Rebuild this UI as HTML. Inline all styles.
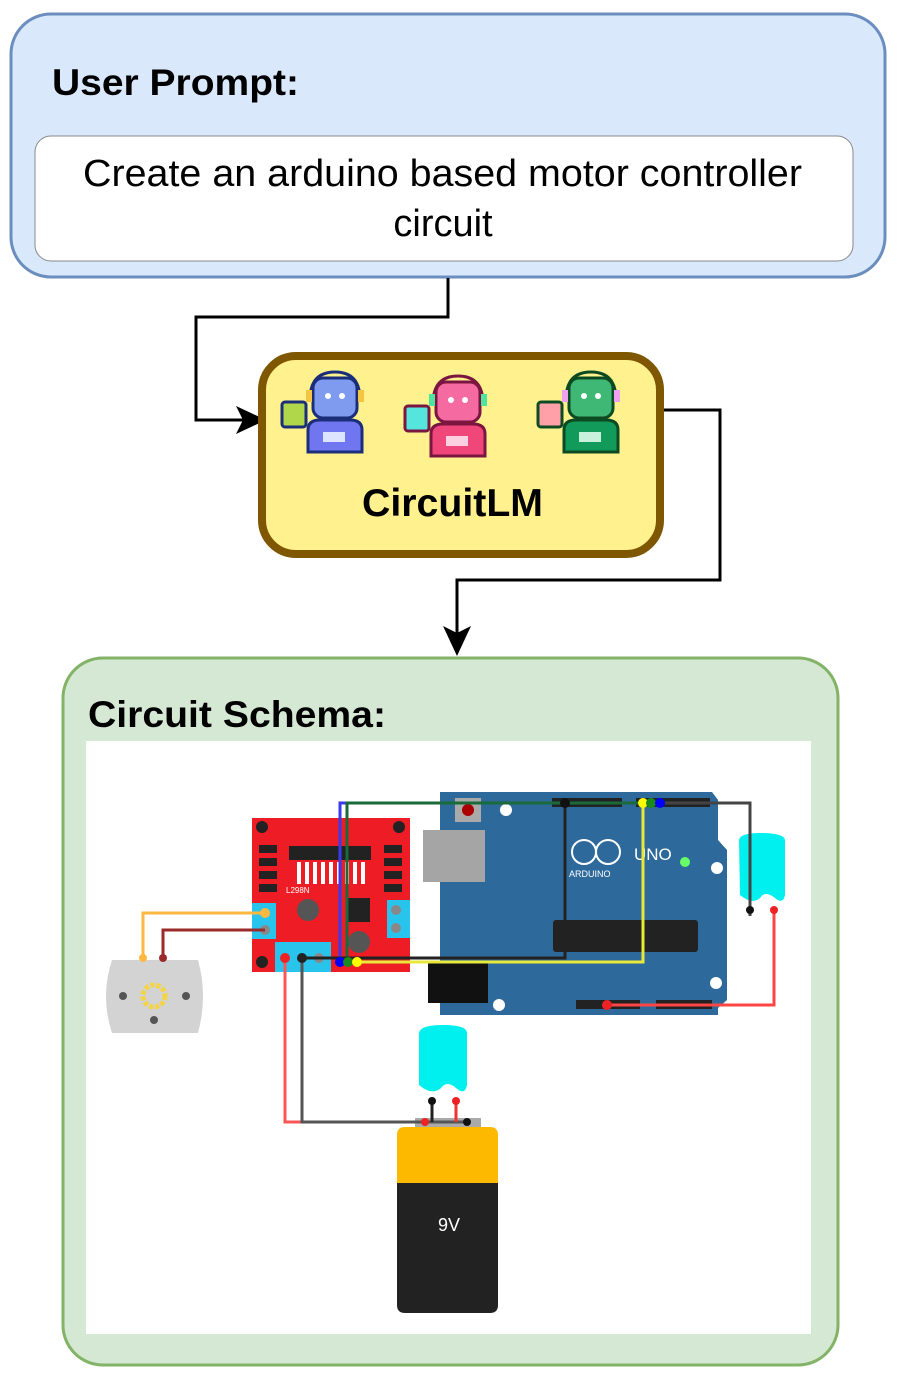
<!DOCTYPE html>
<html><head><meta charset="utf-8"><style>
html,body{margin:0;padding:0;background:#fff;}
svg{display:block;font-family:"Liberation Sans",Arial,sans-serif;}
</style></head><body>
<svg width="897" height="1381" viewBox="0 0 897 1381" xmlns="http://www.w3.org/2000/svg">
<!-- User prompt box -->
<rect x="11" y="14" width="874" height="263" rx="40" fill="#dae8fc" stroke="#6c8ebf" stroke-width="3"/>
<text x="52" y="95" font-size="37" font-weight="bold" fill="#000" textLength="247" lengthAdjust="spacingAndGlyphs">User Prompt:</text>
<rect x="35" y="136" width="818" height="125" rx="16" fill="#fff" stroke="#888" stroke-width="1"/>
<text x="83" y="186" font-size="38" fill="#000" textLength="719" lengthAdjust="spacingAndGlyphs">Create an arduino based motor controller</text>
<text x="443" y="236" font-size="38" text-anchor="middle" fill="#000">circuit</text>
<!-- arrow 1 -->
<path d="M448,278 V317 H196 V420 H258" fill="none" stroke="#000" stroke-width="3"/>
<path d="M236,406 L266,420 L236,434 L243,420 Z" fill="#000"/>
<!-- CircuitLM -->
<rect x="262" y="356" width="398" height="198" rx="34" fill="#fff28e" stroke="#7f5700" stroke-width="8"/>
<text x="362" y="516" font-size="39" font-weight="bold" fill="#000" textLength="181" lengthAdjust="spacingAndGlyphs">CircuitLM</text>
<!-- robots -->
<g stroke-width="3">
 <g transform="translate(280,370)">
  <rect x="2" y="32" width="24" height="25" rx="3" fill="#b0d64a" stroke="#1b2e7a"/>
  <path d="M30,30 Q30,2 55,2 Q80,2 80,30" fill="none" stroke="#1b2e7a"/>
  <rect x="33" y="8" width="44" height="40" rx="10" fill="#7f9bf0" stroke="#1b2e7a"/>
  <circle cx="48" cy="26" r="3" fill="#fff" stroke="none"/><circle cx="62" cy="26" r="3" fill="#fff" stroke="none"/>
  <rect x="26" y="20" width="6" height="12" fill="#f5c542" stroke="none"/><rect x="78" y="20" width="6" height="12" fill="#f5c542" stroke="none"/>
  <path d="M28,82 V60 Q28,50 40,50 H70 Q82,50 82,60 V82 Z" fill="#7076f0" stroke="#1b2e7a"/>
  <rect x="43" y="62" width="22" height="10" fill="#dde4ff" stroke="none"/>
 </g>
 <g transform="translate(403,374)">
  <rect x="2" y="32" width="24" height="25" rx="3" fill="#55e5dc" stroke="#7a1640"/>
  <path d="M30,30 Q30,2 55,2 Q80,2 80,30" fill="none" stroke="#7a1640"/>
  <rect x="33" y="8" width="44" height="40" rx="10" fill="#f56aa0" stroke="#7a1640"/>
  <circle cx="48" cy="26" r="3" fill="#fff" stroke="none"/><circle cx="62" cy="26" r="3" fill="#fff" stroke="none"/>
  <rect x="26" y="20" width="6" height="12" fill="#4fe3a0" stroke="none"/><rect x="78" y="20" width="6" height="12" fill="#4fe3a0" stroke="none"/>
  <path d="M28,82 V60 Q28,50 40,50 H70 Q82,50 82,60 V82 Z" fill="#f0477a" stroke="#7a1640"/>
  <rect x="43" y="62" width="22" height="10" fill="#fbd0e0" stroke="none"/>
 </g>
 <g transform="translate(536,370)">
  <rect x="2" y="32" width="24" height="25" rx="3" fill="#ffa0a8" stroke="#0c4a22"/>
  <path d="M30,30 Q30,2 55,2 Q80,2 80,30" fill="none" stroke="#0c4a22"/>
  <rect x="33" y="8" width="44" height="40" rx="10" fill="#3fb876" stroke="#0c4a22"/>
  <circle cx="48" cy="26" r="3" fill="#fff" stroke="none"/><circle cx="62" cy="26" r="3" fill="#fff" stroke="none"/>
  <rect x="26" y="20" width="6" height="12" fill="#f0a0f0" stroke="none"/><rect x="78" y="20" width="6" height="12" fill="#f0a0f0" stroke="none"/>
  <path d="M28,82 V60 Q28,50 40,50 H70 Q82,50 82,60 V82 Z" fill="#119a5a" stroke="#0c4a22"/>
  <rect x="43" y="62" width="22" height="10" fill="#c8f0da" stroke="none"/>
 </g>
</g>
<!-- arrow 2 -->
<path d="M664,410 H720 V580 H457 V640" fill="none" stroke="#000" stroke-width="3"/>
<path d="M443,626 L457,656 L471,626 L457,633 Z" fill="#000"/>
<!-- Circuit Schema box -->
<rect x="63" y="658" width="775" height="707" rx="40" fill="#d5e8d4" stroke="#82b366" stroke-width="3"/>
<text x="88" y="727" font-size="37" font-weight="bold" fill="#000" textLength="298" lengthAdjust="spacingAndGlyphs">Circuit Schema:</text>
<rect x="86" y="741" width="725" height="593" fill="#fff"/>
<!-- Arduino -->
<path d="M440,792 H712 L718,800 V840 L727,850 V1000 L718,1008 V1015 H440 Z" fill="#2d6a9b"/>
<rect x="423" y="830" width="62" height="52" fill="#a5a5a5"/>
<rect x="428" y="963" width="60" height="40" fill="#111"/>
<rect x="553" y="920" width="145" height="32" rx="3" fill="#222"/>
<rect x="455" y="798" width="26" height="24" fill="#aaa"/><circle cx="468" cy="810" r="6" fill="#a00"/>
<rect x="552" y="798" width="70" height="9" fill="#222"/>
<rect x="636" y="798" width="74" height="9" fill="#222"/>
<rect x="576" y="1000" width="64" height="9" fill="#222"/>
<rect x="656" y="1000" width="56" height="9" fill="#222"/>
<circle cx="584" cy="852" r="12" fill="none" stroke="#fff" stroke-width="2"/><circle cx="608" cy="852" r="12" fill="none" stroke="#fff" stroke-width="2"/>
<text x="634" y="860" font-size="17" fill="#fff">UNO</text>
<text x="569" y="877" font-size="9" fill="#fff">ARDUINO</text>
<circle cx="685" cy="862" r="5" fill="#6f6"/>
<circle cx="717" cy="868" r="6" fill="#fff"/><circle cx="716" cy="983" r="6" fill="#fff"/><circle cx="499" cy="1005" r="6" fill="#fff"/><circle cx="506" cy="810" r="6" fill="#fff"/>
<!-- L298N -->
<rect x="252" y="818" width="158" height="154" fill="#ee1c24"/>
<rect x="289" y="846" width="82" height="14" fill="#222"/>
<g fill="#fff"><rect x="297" y="862" width="4" height="22"/><rect x="305" y="862" width="4" height="22"/><rect x="313" y="862" width="4" height="22"/><rect x="321" y="862" width="4" height="22"/><rect x="329" y="862" width="4" height="22"/><rect x="337" y="862" width="4" height="22"/><rect x="345" y="862" width="4" height="22"/><rect x="353" y="862" width="4" height="22"/><rect x="361" y="862" width="4" height="22"/></g>
<g fill="#222"><rect x="259" y="845" width="18" height="8"/><rect x="259" y="858" width="18" height="8"/><rect x="259" y="871" width="18" height="8"/><rect x="259" y="884" width="18" height="8"/><rect x="384" y="845" width="18" height="8"/><rect x="384" y="858" width="18" height="8"/><rect x="384" y="871" width="18" height="8"/><rect x="384" y="884" width="18" height="8"/></g>
<circle cx="262" cy="827" r="6" fill="#222"/><circle cx="399" cy="827" r="6" fill="#222"/><circle cx="262" cy="962" r="6" fill="#222"/>
<text x="286" y="893" font-size="8" fill="#fff">L298N</text>
<circle cx="308" cy="910" r="11" fill="#555"/><circle cx="359" cy="942" r="11" fill="#555"/>
<rect x="346" y="898" width="24" height="24" fill="#222"/>
<rect x="252" y="903" width="24" height="36" fill="#29c4ec"/>
<rect x="387" y="900" width="23" height="38" fill="#29c4ec"/>
<rect x="275" y="942" width="56" height="30" fill="#29c4ec"/>
<circle cx="396" cy="910" r="5" fill="#888"/><circle cx="396" cy="928" r="5" fill="#888"/>
<circle cx="265" cy="930" r="5" fill="#888"/><circle cx="319" cy="958" r="5" fill="#888"/>
<!-- Motor -->
<path d="M112,960 H198 Q208,996 198,1033 H112 Q100,996 112,960 Z" fill="#d3d3d3"/>
<circle cx="154" cy="996" r="11" fill="none" stroke="#f4d442" stroke-width="5" stroke-dasharray="4 2"/>
<circle cx="123" cy="996" r="4" fill="#555"/><circle cx="186" cy="996" r="4" fill="#555"/><circle cx="154" cy="1020" r="4" fill="#555"/>
<!-- LEDs -->
<path d="M739,840 Q740,833 760,833 Q784,833 785,840 V895 Q783,905 775,898 Q765,890 760,898 Q752,905 740,895 Z" fill="#00f0f0"/>
<path d="M419,1033 Q420,1025 443,1025 Q467,1025 467,1033 V1085 Q465,1096 456,1088 Q447,1080 441,1088 Q432,1096 419,1085 Z" fill="#00f0f0"/>
<!-- Battery -->
<rect x="415" y="1118" width="66" height="10" fill="#aaa"/>
<path d="M397,1135 Q397,1127 405,1127 H490 Q498,1127 498,1135 V1183 H397 Z" fill="#fdb900"/>
<path d="M397,1183 H498 V1305 Q498,1313 490,1313 H405 Q397,1313 397,1305 Z" fill="#222"/>
<text x="449" y="1231" font-size="18" fill="#fff" text-anchor="middle">9V</text>
<!-- wires -->
<g fill="none" stroke-width="3">
<path d="M143,958 V913 H265" stroke="#fdb840"/>
<path d="M163,958 V930 H265" stroke="#9b2a2a"/>
<path d="M340,960 V803 H565" stroke="#3a3af0"/>
<path d="M347,960 V803 H650" stroke="#1a6a3a"/>
<path d="M565,803 V958 H300" stroke="#222"/>
<path d="M643,803 V962 H357" stroke="#e8e83a"/>
<path d="M660,803 H750 V916" stroke="#444"/>
<path d="M774,910 V1005 H607" stroke="#f44"/>
<path d="M285,958 V1122 H425" stroke="#f55"/>
<path d="M302,958 V1122 H467" stroke="#555"/>
<path d="M432,1100 V1122" stroke="#222"/>
<path d="M456,1100 V1122" stroke="#e33"/>
</g>
<g>
<circle cx="265" cy="913" r="5" fill="#fdb840"/><circle cx="143" cy="958" r="4" fill="#fdb840"/><circle cx="163" cy="958" r="4" fill="#9b2a2a"/>
<circle cx="340" cy="962" r="5" fill="#00f"/><circle cx="348" cy="962" r="5" fill="#1a8a1a"/><circle cx="357" cy="962" r="5" fill="#ff0"/>
<circle cx="285" cy="958" r="5" fill="#e22"/><circle cx="302" cy="958" r="5" fill="#222"/>
<circle cx="565" cy="803" r="5" fill="#111"/><circle cx="643" cy="803" r="5" fill="#ff0"/><circle cx="651" cy="803" r="5" fill="#1a8a1a"/><circle cx="660" cy="803" r="5" fill="#00f"/>
<circle cx="750" cy="910" r="4" fill="#111"/><circle cx="774" cy="910" r="4" fill="#e22"/><circle cx="607" cy="1005" r="5" fill="#e22"/>
<circle cx="432" cy="1101" r="4" fill="#111"/><circle cx="456" cy="1101" r="4" fill="#e22"/>
<circle cx="425" cy="1122" r="4" fill="#e22"/><circle cx="467" cy="1122" r="4" fill="#111"/>
</g>
</svg>
</body></html>
